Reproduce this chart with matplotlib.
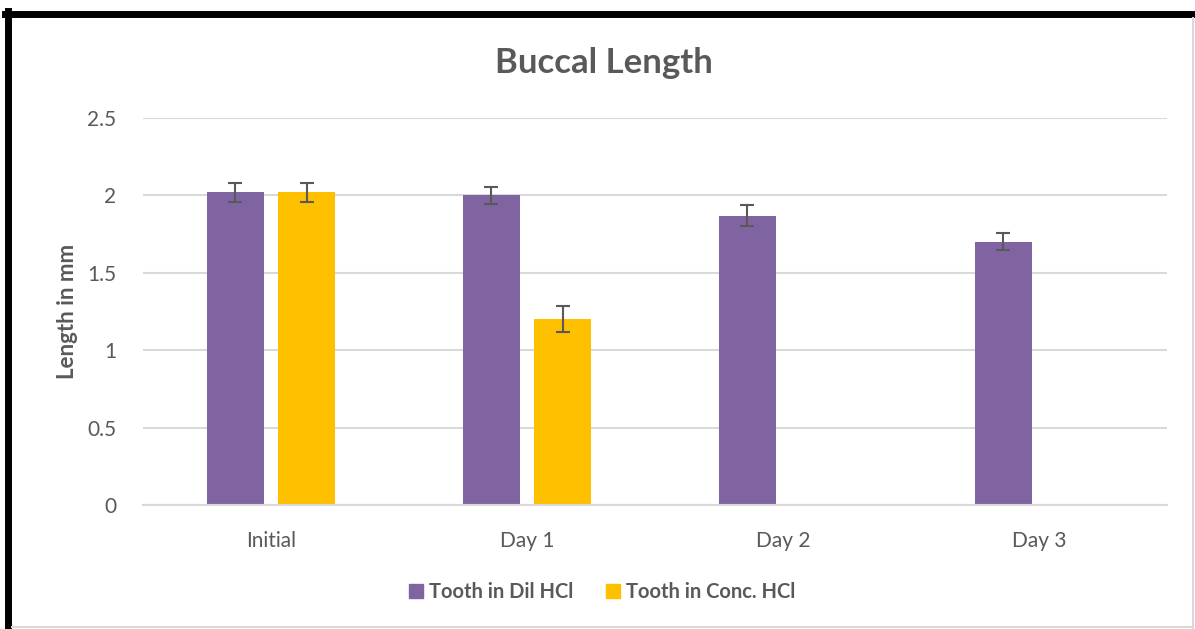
import numpy as np
import matplotlib.pyplot as plt
from matplotlib.patches import Patch
from matplotlib.lines import Line2D

plt.rcParams['font.family'] = ['Lato', 'DejaVu Sans']

categories = ['Initial', 'Day 1', 'Day 2', 'Day 3']
dil_hcl = [2.02, 2.00, 1.87, 1.70]
dil_err = [0.06, 0.055, 0.07, 0.055]
conc_hcl = [2.02, 1.20, np.nan, np.nan]
conc_err = [0.06, 0.085, np.nan, np.nan]
series_names = ['Tooth in Dil HCl', 'Tooth in Conc. HCl']

purple = '#8064A2'
gold = '#FFC000'
txt = '#595959'
grid = '#D9D9D9'

fig = plt.figure(figsize=(11.95, 6.29), dpi=100)
ax = fig.add_axes([143 / 1195, 124 / 629, 1024 / 1195, 387 / 629])

x = np.arange(len(categories))
bw = 0.223
off = 0.14
ax.bar(x - off, dil_hcl, bw, color=purple, zorder=2)
ax.bar(x + off, conc_hcl, bw, color=gold, zorder=2)
ax.errorbar(x - off, dil_hcl, yerr=dil_err, fmt='none', ecolor=txt,
            elinewidth=1.5, capsize=5, capthick=1.5, zorder=3)
ax.errorbar(x + off, conc_hcl, yerr=conc_err, fmt='none', ecolor=txt,
            elinewidth=1.5, capsize=5, capthick=1.5, zorder=3)

ax.set_xlim(-0.5, 3.5)
ax.set_ylim(0, 2.5)
ax.set_yticks([0, 0.5, 1, 1.5, 2, 2.5])
ax.set_yticklabels(['0', '0.5', '1', '1.5', '2', '2.5'])
ax.set_xticks(x)
ax.set_xticklabels(categories)
ax.grid(axis='y', color=grid, linewidth=1.5, zorder=0)
ax.set_axisbelow(True)
for s in ['top', 'right', 'left']:
    ax.spines[s].set_visible(False)
ax.spines['bottom'].set_color(grid)
ax.spines['bottom'].set_linewidth(1.5)
ax.tick_params(length=0, labelsize=15, labelcolor=txt)
ax.tick_params(axis='x', pad=19)
ax.tick_params(axis='y', pad=19)
ax.set_ylabel('Length in mm', fontsize=16, fontweight='bold', color=txt, labelpad=7)

fig.text(604 / 1195, 1 - 63 / 629, 'Buccal Length', ha='center', va='center',
         fontsize=25, fontweight='bold', color=txt)

handles = [Patch(color=purple), Patch(color=gold)]
leg = fig.legend(handles, series_names, loc='center', bbox_to_anchor=(602 / 1195, 1 - 592 / 629),
                 ncol=2, frameon=False, handlelength=0.7, handleheight=0.7,
                 handletextpad=0.3, columnspacing=1.6,
                 prop={'size': 14.5, 'weight': 'bold'})
for t in leg.get_texts():
    t.set_color(txt)

# frame around the chart
fig.add_artist(Line2D([5 / 1195, 1], [1 - 14 / 629, 1 - 14 / 629], color='black', linewidth=5))
fig.add_artist(Line2D([8 / 1195, 8 / 1195], [0, 1 - 11 / 629], color='black', linewidth=5))
fig.add_artist(Line2D([1193 / 1195, 1193 / 1195], [0, 1 - 18 / 629], color='#D9D9D9', linewidth=1.5))
fig.add_artist(Line2D([12 / 1195, 1193 / 1195], [1 - 627 / 629, 1 - 627 / 629], color='#D9D9D9', linewidth=1.5))

fig.savefig('out.png', dpi=100)
